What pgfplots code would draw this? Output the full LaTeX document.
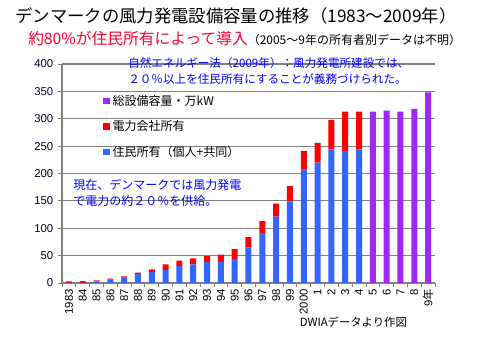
\documentclass[border=0pt]{standalone}
\usepackage{pgfplots}
\pgfplotsset{compat=1.18}
\usepackage{fontspec}
\setmainfont{Noto Sans CJK JP}
\newfontfamily\numfont{Liberation Sans}
\newfontfamily\cjk{Noto Sans CJK JP}
\definecolor{barblue}{RGB}{51,102,255}
\definecolor{barred}{RGB}{255,0,0}
\definecolor{barpurple}{RGB}{160,40,245}
\definecolor{txtblue}{RGB}{0,0,255}
\definecolor{txtred}{RGB}{255,0,51}
\definecolor{gridgray}{RGB}{128,128,128}
\pgfplotstableread{
idx resident utility total
0 0.3 2.7 0
1 0.3 3.0 0
2 3 2 0
3 6 2.2 0
4 10 2 0
5 16.5 2.5 0
6 20 5 0
7 24 10 0
8 31 10 0
9 34 11 0
10 38 11 0
11 38.5 13.5 0
12 44 18 0
13 65 19 0
14 91 22 0
15 121 24 0
16 149 28 0
17 207 34 0
18 220 36 0
19 244 54 0
20 241 72 0
21 244 69 0
22 0 0 313
23 0 0 315
24 0 0 313
25 0 0 318
26 0 0 348
}\datatable
\begin{document}
\begin{tikzpicture}
\fill[white] (0,0) rectangle (360pt,270pt);
\useasboundingbox (0,0) rectangle (360pt,270pt);
\begin{axis}[
  at={(46.5pt,57.75pt)}, anchor=south west, scale only axis,
  width=279.75pt, height=164.25pt,
  ybar stacked, bar width=4.5pt,
  ymin=0, ymax=400, ytick={0,50,...,400},
  xmin=-0.5, xmax=26.5,
  xtick={0,...,26},
  xticklabels={1983,84,85,86,87,88,89,90,91,92,93,94,95,96,97,98,99,2000,1,2,3,4,5,6,7,8,{9{\cjk 年}}},
  minor xtick={-0.5,0.5,...,26.5},
  major x tick style={draw=none},
  tick align=outside,
  major tick length=3pt, minor tick length=3pt,
  tick style={gridgray, line width=0.6pt},
  axis x line*=bottom, axis y line*=left,
  axis line style={draw=gridgray, line width=0.8pt, -},
  ymajorgrids, major grid style={gridgray, line width=0.8pt},
  /pgf/number format/assume math mode=true,
  yticklabel style={font=\numfont\fontsize{8.5}{9}\selectfont, text=black!85!blue},
  xticklabel style={rotate=90, anchor=east, font=\numfont\fontsize{8.5}{9}\selectfont, text=black, inner sep=1.5pt},
  legend style={at={(0.11,0.872)}, anchor=north west, draw=none, fill=none,
    font=\fontsize{9}{11}\selectfont, row sep=6pt, inner sep=0pt},
  legend cell align=left,
  reverse legend,
]
\addplot[fill=barblue, draw=none, legend image code/.code={\fill[barblue] (0pt,-2.5pt) rectangle (5pt,2.5pt);}] table[x=idx, y=resident] {\datatable};
\addlegendentry{住民所有（個人+共同）}
\addplot[fill=barred, draw=none, legend image code/.code={\fill[barred] (0pt,-2.5pt) rectangle (5pt,2.5pt);}] table[x=idx, y=utility] {\datatable};
\addlegendentry{電力会社所有}
\addplot[fill=barpurple, draw=none, legend image code/.code={\fill[barpurple] (0pt,-2.5pt) rectangle (5pt,2.5pt);}] table[x=idx, y=total] {\datatable};
\addlegendentry{総設備容量・万kW}
\end{axis}
\node[font=\fontsize{13}{15}\selectfont] at (177pt,258pt) {デンマークの風力発電設備容量の推移（1983〜2009年）};
\node[anchor=base west, inner sep=0pt] at (21pt,236.5pt) {{\color{txtred}\fontsize{11.8}{13}\selectfont 約80\%が住民所有によって導入}{\fontsize{9}{11}\selectfont （2005〜9年の所有者別データは不明）}};
\node[anchor=north west, align=left, text=txtblue, font=\fontsize{8.7}{12}\selectfont, inner sep=0pt] at (96pt,227pt) {自然エネルギー法（2009年）：風力発電所建設では、\\２０％以上を住民所有にすることが義務づけられた。};
\node[anchor=north west, align=left, text=txtblue, font=\fontsize{9}{12}\selectfont, inner sep=0pt] at (54.75pt,135.5pt) {現在、デンマークでは風力発電\\で電力の約２０％を供給。};
\node[font=\fontsize{8.5}{10}\selectfont] at (265pt,28.5pt) {DWIAデータより作図};
\end{tikzpicture}
\end{document}
